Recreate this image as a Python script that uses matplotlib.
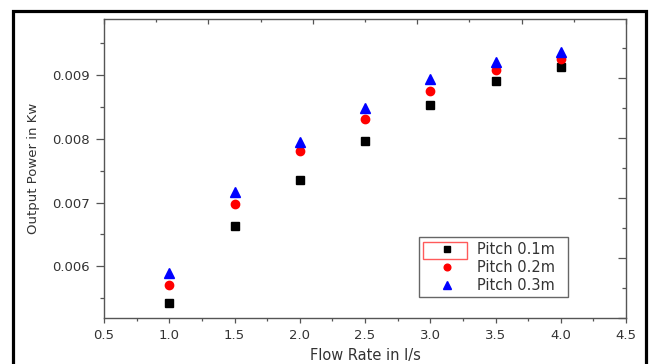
import matplotlib
matplotlib.use("Agg")
import matplotlib.pyplot as plt
from matplotlib.patches import Rectangle
from matplotlib.ticker import MultipleLocator, FixedLocator, NullFormatter, FormatStrFormatter

plt.rcParams['font.family'] = ['DejaVu Sans']

flow_rate = [1.0, 1.5, 2.0, 2.5, 3.0, 3.5, 4.0]
pitch_01 = [0.005422, 0.006638, 0.007354, 0.007966, 0.008525, 0.008906, 0.009125]
pitch_02 = [0.005704, 0.006978, 0.007804, 0.008306, 0.008749, 0.009078, 0.009251]
pitch_03 = [0.005892, 0.007161, 0.007950, 0.008483, 0.008933, 0.009199, 0.009361]
series_labels = ["Pitch 0.1m", "Pitch 0.2m", "Pitch 0.3m"]

txt = '#333333'
spine_c = '#555555'

fig = plt.figure(figsize=(6.5, 3.64), dpi=100)
ax = fig.add_axes([104/650, 1-318/364, (626-104)/650, (318-19)/364])

ax.plot(flow_rate, pitch_01, linestyle='none', marker='s', markersize=6,
        color='black', label=series_labels[0], zorder=3)
ax.plot(flow_rate, pitch_02, linestyle='none', marker='o', markersize=6,
        color='#ff0000', label=series_labels[1], zorder=3)
ax.plot(flow_rate, pitch_03, linestyle='none', marker='^', markersize=7,
        color='#0000ff', label=series_labels[2], zorder=3)

ax.set_xlim(0.5, 4.5)
ax.set_ylim(0.005191, 0.009878)
ax.xaxis.set_major_locator(MultipleLocator(0.5))
ax.xaxis.set_minor_locator(MultipleLocator(0.25))
ax.yaxis.set_major_locator(FixedLocator([0.006, 0.007, 0.008, 0.009]))
ax.yaxis.set_minor_locator(FixedLocator([0.0055, 0.0065, 0.0075, 0.0085, 0.0095]))
ax.xaxis.set_major_formatter(FormatStrFormatter('%.1f'))
ax.yaxis.set_major_formatter(FormatStrFormatter('%.3f'))

ax.tick_params(axis='x', which='major', direction='out', length=3.6, width=0.9,
               color=spine_c, labelsize=9.5, labelcolor=txt, pad=4.3)
ax.tick_params(axis='x', which='minor', direction='out', length=2.2, width=0.9,
               color=spine_c)
ax.tick_params(axis='y', which='major', direction='out', length=6, width=0.9,
               color=spine_c, labelsize=9.5, labelcolor=txt, pad=4)
ax.tick_params(axis='y', which='minor', direction='out', length=3, width=0.9,
               color=spine_c)
ax.tick_params(top=False, right=False, which='both')
for s in ax.spines.values():
    s.set_color(spine_c)
    s.set_linewidth(1.0)

ax.set_xlabel("Flow Rate in l/s", fontsize=10.5, color=txt, labelpad=4)
ax.set_ylabel("Output Power in Kw", fontsize=9.5, color=txt, labelpad=9)

# top axis ticks (inward)
axt = ax.twiny()
axt.set_xlim(0.5, 4.5)
axt.xaxis.set_major_locator(FixedLocator([0.5, 1.3, 2.1, 2.9, 3.7, 4.5]))
axt.xaxis.set_minor_locator(FixedLocator([0.9, 1.7, 2.5, 3.3, 4.1]))
axt.xaxis.set_major_formatter(NullFormatter())
axt.tick_params(axis='x', which='major', direction='in', length=3.6, width=0.9, color=spine_c)
axt.tick_params(axis='x', which='minor', direction='in', length=2.2, width=0.9, color=spine_c)
for s in axt.spines.values():
    s.set_visible(False)

# right axis ticks (inward)
axr = ax.twinx()
axr.set_ylim(0, 299/60.0)
axr.yaxis.set_major_locator(FixedLocator([0, 1, 2, 3, 4]))
axr.yaxis.set_minor_locator(FixedLocator([0.5, 1.5, 2.5, 3.5, 4.5]))
axr.yaxis.set_major_formatter(NullFormatter())
axr.tick_params(axis='y', which='major', direction='in', length=6, width=0.9, color=spine_c)
axr.tick_params(axis='y', which='minor', direction='in', length=3, width=0.9, color=spine_c)
for s in axr.spines.values():
    s.set_visible(False)

handles, labels = ax.get_legend_handles_labels()
leg = axr.legend(handles, labels, loc='lower left',
                 bbox_to_anchor=((419-104)/522, (318-297)/299, (568-419)/522, 0.18),
                 mode='expand', borderaxespad=0, fancybox=False, framealpha=1,
                 edgecolor='#666666', fontsize=10.5, labelcolor=txt,
                 handlelength=3.23, handletextpad=0.44, labelspacing=0.2,
                 borderpad=0.3, markerscale=0.8)
leg.get_frame().set_linewidth(1.0)

# selection box around first legend handle
axr.add_patch(Rectangle(((423-104)/522, (318-258.5)/299), (467-423)/522, (258.5-242)/299,
                        transform=ax.transAxes, fill=False, edgecolor='#ff5a5a',
                        linewidth=1.0, zorder=10, clip_on=False))

# outer frame
fig.patches.append(Rectangle((13/650, -0.2), (646-13)/650, 1.2 - 10.5/364,
                             transform=fig.transFigure, fill=False, edgecolor='black',
                             linewidth=2.3, clip_on=False))

fig.savefig("out.png", dpi=100)
